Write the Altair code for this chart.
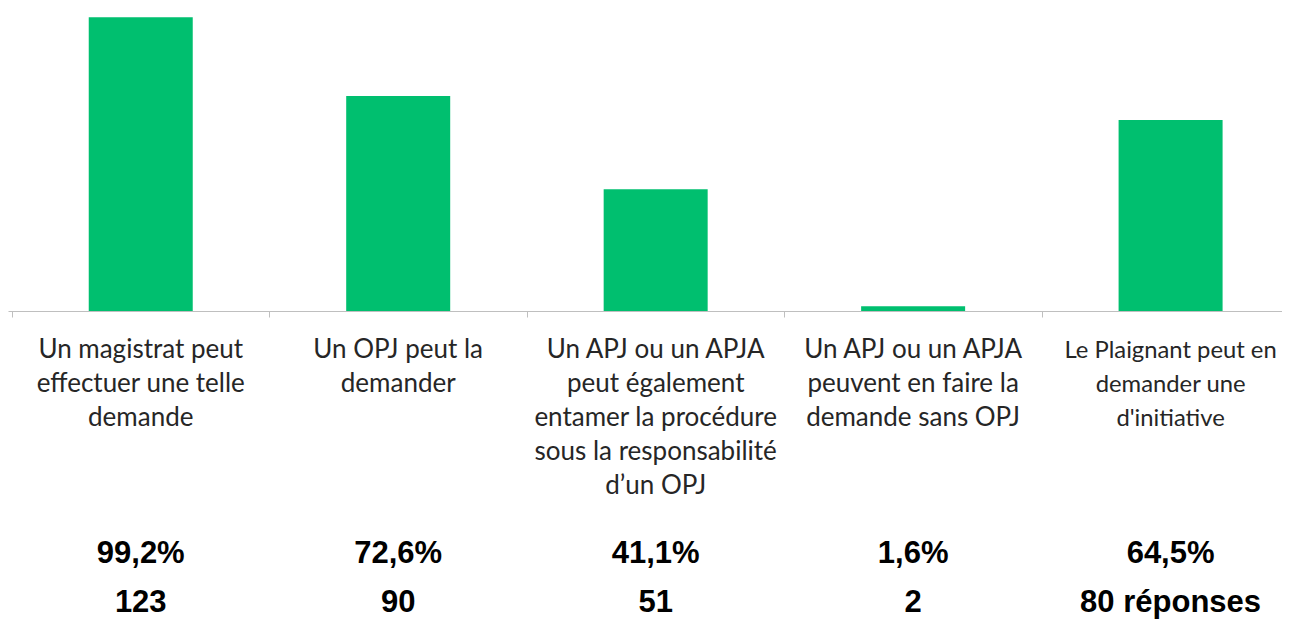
import altair as alt
import pandas as pd

categories = [
    "Un magistrat peut\neffectuer une telle\ndemande",
    "Un OPJ peut la\ndemander",
    "Un APJ ou un APJA\npeut également\nentamer la procédure\nsous la responsabilité\nd’un OPJ",
    "Un APJ ou un APJA\npeuvent en faire la\ndemande sans OPJ",
    "Le Plaignant peut en\ndemander une\nd'initiative",
]
percent_values = [99.2, 72.6, 41.1, 1.6, 64.5]
percent_labels = ["99,2%", "72,6%", "41,1%", "1,6%", "64,5%"]
count_labels = ["123", "90", "51", "2", "80 réponses"]

df = pd.DataFrame({
    "pos": list(range(len(categories))),
    "category": categories,
    "value": percent_values,
    "pct": percent_labels,
    "count": count_labels,
})

band_px = 259.5
plot_w = 1274
d0 = -0.5 + 1.0 / band_px
x_scale = alt.Scale(domain=[d0, d0 + plot_w / band_px], nice=False, zero=False)
x_axis = alt.Axis(
    values=[-0.5, 0.5, 1.5, 2.5, 3.5],
    labels=False, title=None, grid=False,
    domainColor="#bfbfbf", tickColor="#bfbfbf", tickSize=6,
)

base = alt.Chart(df)

bars = base.mark_bar(size=104, color="#00BF6F").encode(
    x=alt.X("pos:Q", scale=x_scale, axis=x_axis),
    y=alt.Y("value:Q", scale=alt.Scale(domain=[0, 100], nice=False), axis=None),
)

label_style = dict(font="Lato", color="#262626", lineBreak="\n",
                   lineHeight=34, align="center", baseline="alphabetic")

cat_text = base.transform_filter("datum.pos < 4").mark_text(
    fontSize=26, **label_style
).encode(x=alt.X("pos:Q", scale=x_scale), y=alt.value(343), text="category:N")

cat_text_last = base.transform_filter("datum.pos == 4").mark_text(
    fontSize=23.8, **label_style
).encode(x=alt.X("pos:Q", scale=x_scale), y=alt.value(343), text="category:N")

num_font = "Liberation Sans, Arial, Helvetica"

pct_text = base.mark_text(
    font=num_font, fontSize=31, fontWeight="bold", color="#000000",
    align="center", baseline="alphabetic",
).encode(x=alt.X("pos:Q", scale=x_scale), y=alt.value(548), text="pct:N")

count_text = base.mark_text(
    font=num_font, fontSize=31, fontWeight="bold", color="#000000",
    align="center", baseline="alphabetic",
).encode(x=alt.X("pos:Q", scale=x_scale), y=alt.value(597), text="count:N")

chart = alt.layer(bars, cat_text, cat_text_last, pct_text, count_text).properties(
    width=plot_w, height=296,
    background="white",
    autosize=alt.AutoSizeParams(type="none"),
    padding={"left": 0, "top": 7, "right": 0, "bottom": 309},
).configure_view(stroke=None)

chart.save("out.html", embed_options={"renderer": "svg", "actions": False})
